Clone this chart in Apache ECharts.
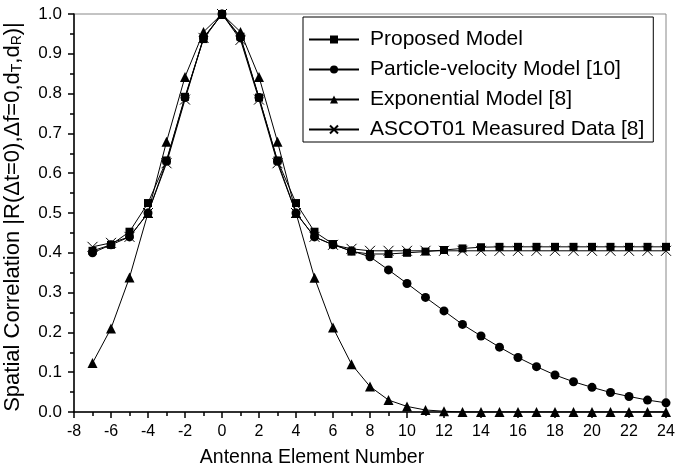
<!DOCTYPE html>
<html>
<head>
<meta charset="utf-8">
<script src="https://cdn.jsdelivr.net/npm/echarts@6/dist/echarts.min.js"></script>
<style>
  html, body { margin: 0; padding: 0; background: #fff; }
  #chart { width: 676px; height: 475px; }
</style>
</head>
<body>
<div id="chart"></div>
<script>
// antenna element index
var elements = [-7, -6, -5, -4, -3, -2, -1, 0, 1, 2, 3, 4, 5, 6, 7, 8, 9, 10, 11, 12, 13, 14, 15, 16, 17, 18, 19, 20, 21, 22, 23, 24];

var proposed = [0.405, 0.42, 0.453, 0.525, 0.632, 0.792, 0.937, 1.0, 0.943, 0.79, 0.632, 0.525, 0.453, 0.422, 0.403, 0.397,
  0.397, 0.40, 0.403, 0.407, 0.411, 0.414, 0.415, 0.415, 0.415, 0.415, 0.415, 0.415, 0.415, 0.415, 0.415, 0.415];
var particle = [0.40, 0.42, 0.44, 0.50, 0.63, 0.79, 0.94, 1.0, 0.94, 0.79, 0.63, 0.50, 0.44, 0.42, 0.405, 0.39,
  0.357, 0.323, 0.288, 0.254, 0.22, 0.191, 0.163, 0.137, 0.114, 0.093, 0.076, 0.062, 0.049, 0.039, 0.030, 0.023];
var exponential = [0.123, 0.21, 0.338, 0.50, 0.679, 0.842, 0.955, 1.0, 0.955, 0.842, 0.679, 0.50, 0.337, 0.212, 0.12, 0.064,
  0.030, 0.014, 0.005, 0.002, 0, 0, 0, 0, 0, 0, 0, 0, 0, 0, 0, 0];
var measured = [0.415, 0.425, 0.44, 0.50, 0.625, 0.785, 0.94, 1.0, 0.935, 0.785, 0.625, 0.50, 0.44, 0.42, 0.41, 0.405,
  0.405, 0.405, 0.405, 0.405, 0.405, 0.405, 0.405, 0.405, 0.405, 0.405, 0.405, 0.405, 0.405, 0.405, 0.405, 0.405];

var names = ['Proposed Model', 'Particle-velocity Model [10]', 'Exponential Model [8]', 'ASCOT01 Measured Data [8]'];

function pairs(ys) {
  return elements.map(function (x, i) { return [x, ys[i]]; });
}

var font = 'Arial, "Liberation Sans", sans-serif';
var crossPath = 'path://M0,0L10,10M10,0L0,10';

var chart = echarts.init(document.getElementById('chart'));
chart.setOption({
  backgroundColor: '#fff',
  animation: false,
  grid: {
    left: 74, right: 10, top: 14, bottom: 63,
    outerBoundsMode: 'none',
    show: true, borderColor: '#888', borderWidth: 1
  },
  legend: {
    orient: 'vertical',
    left: 303, top: 17,
    padding: [12, 9, 2, 5],
    itemGap: 9,
    itemWidth: 50,
    itemHeight: 10,
    backgroundColor: '#fff',
    borderColor: '#000',
    borderWidth: 1,
    borderRadius: 0,
    textStyle: { fontFamily: font, fontSize: 21, color: '#000', padding: [0, 0, 0, 6] },
    data: names
  },
  xAxis: {
    type: 'value',
    min: -8, max: 24, interval: 2,
    name: 'Antenna Element Number',
    nameLocation: 'middle',
    nameGap: 36,
    nameTextStyle: { fontFamily: font, fontSize: 19.5, color: '#000', padding: [0, 116, 0, 0] },
    axisLine: { onZero: false, lineStyle: { color: '#000', width: 1.5 } },
    axisTick: { inside: false, length: 6, lineStyle: { color: '#000', width: 1.5 } },
    minorTick: { show: true, splitNumber: 2, length: 4, lineStyle: { color: '#000', width: 1.5 } },
    axisLabel: { fontFamily: font, fontSize: 16, color: '#000', margin: 12 },
    splitLine: { show: false }
  },
  yAxis: {
    type: 'value',
    min: 0, max: 1, interval: 0.1,
    name: 'Spatial Correlation |R(\u0394t=0),\u0394f=0,d{sub|T},d{sub|R})|',
    nameLocation: 'middle',
    nameGap: 50,
    nameTextStyle: {
      fontFamily: font, fontSize: 22, color: '#000', padding: [0, 8, 0, 0],
      rich: { sub: { fontFamily: font, fontSize: 14, color: '#000', verticalAlign: 'bottom', padding: [9, 0, 0, 0] } }
    },
    axisLine: { onZero: false, lineStyle: { color: '#000', width: 1.5 } },
    axisTick: { inside: false, length: 6, lineStyle: { color: '#000', width: 1.5 } },
    minorTick: { show: true, splitNumber: 2, length: 4, lineStyle: { color: '#000', width: 1.5 } },
    axisLabel: {
      fontFamily: font, fontSize: 17, color: '#000', margin: 12,
      formatter: function (v) { return v.toFixed(1); }
    },
    splitLine: { show: false }
  },
  series: [
    {
      name: names[0], type: 'line', data: pairs(proposed), z: 5,
      symbol: 'rect', symbolSize: 8,
      itemStyle: { color: '#000' },
      lineStyle: { color: '#000', width: 1 }
    },
    {
      name: names[1], type: 'line', data: pairs(particle), z: 4,
      symbol: 'circle', symbolSize: 9,
      itemStyle: { color: '#000' },
      lineStyle: { color: '#000', width: 1 }
    },
    {
      name: names[2], type: 'line', data: pairs(exponential), z: 3,
      symbol: 'triangle', symbolSize: 10,
      itemStyle: { color: '#000' },
      lineStyle: { color: '#000', width: 1 }
    },
    {
      name: names[3], type: 'line', data: pairs(measured), z: 2,
      symbol: crossPath, symbolSize: 10,
      itemStyle: { color: 'none', borderColor: '#000', borderWidth: 1 },
      lineStyle: { color: '#000', width: 1 }
    }
  ]
});
</script>
</body>
</html>
